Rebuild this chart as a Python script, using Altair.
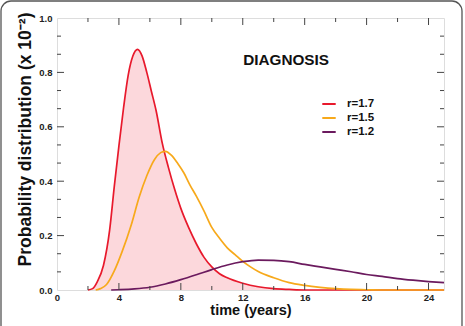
import altair as alt
import pandas as pd

# ---- data ----
red_t = [2.0, 2.3, 2.6, 3.0, 3.4, 3.7, 4.0, 4.3, 4.6, 4.9, 5.2, 5.5, 5.8, 6.1, 6.4, 6.8, 7.2, 7.6,
         8.0, 8.5, 9.0, 9.5, 10.0, 10.5, 11.0, 12.0, 13.0, 14.0, 15.0, 16.0, 25.0]
red_p = [0.0, 0.005, 0.03, 0.09, 0.22, 0.38, 0.53, 0.67, 0.79, 0.86, 0.885, 0.86, 0.80, 0.73, 0.66,
         0.54, 0.45, 0.37, 0.30, 0.23, 0.17, 0.12, 0.085, 0.06, 0.045, 0.025, 0.012, 0.005, 0.002, 0.0, 0.0]

yel_t = [2.5, 2.8, 3.2, 3.7, 4.2, 4.8, 5.3, 5.8, 6.3, 6.7, 7.0, 7.4, 7.8, 8.2, 8.6, 9.0, 9.5, 10.0,
         10.5, 11.0, 11.5, 12.0, 12.5, 13.0, 14.0, 15.0, 16.0, 17.0, 18.0, 19.0, 20.0, 21.0, 25.0]
yel_p = [0.0, 0.005, 0.02, 0.07, 0.14, 0.24, 0.34, 0.42, 0.48, 0.505, 0.51, 0.495, 0.465, 0.43, 0.385,
         0.345, 0.29, 0.23, 0.19, 0.155, 0.13, 0.105, 0.085, 0.068, 0.045, 0.027, 0.017, 0.01, 0.005,
         0.002, 0.001, 0.0, 0.0]

pur_t = [3.5, 4.0, 5.0, 6.0, 7.0, 8.0, 9.0, 10.0, 11.0, 12.0, 13.0, 14.0, 15.0, 16.0, 17.0, 18.0,
         19.0, 20.0, 21.0, 22.0, 23.0, 24.0, 25.0]
pur_p = [0.0, 0.001, 0.004, 0.01, 0.022, 0.038, 0.056, 0.075, 0.092, 0.104, 0.11, 0.109, 0.104, 0.094,
         0.085, 0.076, 0.067, 0.057, 0.05, 0.042, 0.036, 0.031, 0.027]

series_names = ["r=1.7", "r=1.5", "r=1.2"]
series_colors = ["#e8192c", "#f7a91b", "#6b1a5e"]

x_labels = [0, 4, 8, 12, 16, 20, 24]
y_labels = [0.0, 0.2, 0.4, 0.6, 0.8, 1.0]
x_major = [4, 8, 12, 16, 20, 24]
x_minor = [2, 6, 10, 14, 18, 22]
y_major = [0.2, 0.4, 0.6, 0.8]
y_minor = [1/15, 2/15, 4/15, 5/15, 7/15, 8/15, 10/15, 11/15, 13/15, 14/15]

X_MAX = 25.0
Y_MAX = 1.0
W, H = 387, 272
FONT = "Liberation Sans"

# ---- tables ----
curves = pd.concat([
    pd.DataFrame({"t": red_t, "p": red_p, "s": series_names[0]}),
    pd.DataFrame({"t": yel_t, "p": yel_p, "s": series_names[1]}),
    pd.DataFrame({"t": pur_t, "p": pur_p, "s": series_names[2]}),
])
red_df = pd.DataFrame({"t": red_t, "p": red_p})

xs = alt.Scale(domain=[0, X_MAX], nice=False, zero=False)
ys = alt.Scale(domain=[0, Y_MAX], nice=False)

# tick lengths in data units
def lx(px):
    return px * X_MAX / W

def ly(px):
    return px * Y_MAX / H

rows = []
for v in x_major:
    rows.append({"x": v, "x2": v, "y": 0, "y2": ly(7)})
    rows.append({"x": v, "x2": v, "y": Y_MAX, "y2": Y_MAX - ly(7)})
for v in x_minor:
    rows.append({"x": v, "x2": v, "y": 0, "y2": ly(4)})
    rows.append({"x": v, "x2": v, "y": Y_MAX, "y2": Y_MAX - ly(4)})
for v in y_major:
    rows.append({"x": 0, "x2": lx(7), "y": v, "y2": v})
    rows.append({"x": X_MAX, "x2": X_MAX - lx(7), "y": v, "y2": v})
for v in y_minor:
    rows.append({"x": 0, "x2": lx(4), "y": v, "y2": v})
    rows.append({"x": X_MAX, "x2": X_MAX - lx(4), "y": v, "y2": v})
ticks_df = pd.DataFrame(rows)

x_axis = alt.Axis(values=x_labels, ticks=False, domain=False, grid=False, labelFont=FONT,
                  labelFontWeight="bold", labelFontSize=9.5, labelColor="#222", labelPadding=2,
                  title="time (years)", titleFont=FONT, titleFontSize=14.5, titleFontWeight="bold",
                  titleColor="#111", titlePadding=2, labelFlush=False)
y_axis = alt.Axis(values=y_labels, format=".1f", ticks=False, domain=False, grid=False,
                  labelFont=FONT, labelFontWeight="bold", labelFontSize=9.5, labelColor="#222",
                  labelPadding=5, title="Probability distribution (x 10⁻²)", titleFont=FONT,
                  titleFontSize=17.5, titleFontWeight="bold", titleColor="#111", titlePadding=4,
                  titleY=121, labelFlush=False)

frame = alt.Chart(pd.DataFrame({"a": [0]})).mark_rect(
    fill=None, stroke="#555", strokeWidth=1.3, cornerRadiusTopLeft=10, cornerRadiusTopRight=10,
    cornerRadiusBottomLeft=0, cornerRadiusBottomRight=0
).encode(x=alt.value(-56), x2=alt.value(405), y=alt.value(-17), y2=alt.value(600))

fill = alt.Chart(red_df).mark_area(color="#fcd8dc", opacity=1, interpolate="monotone").encode(
    x=alt.X("t:Q", scale=xs, axis=x_axis),
    y=alt.Y("p:Q", scale=ys, axis=y_axis),
)

lines = alt.Chart(curves).mark_line(strokeWidth=1.7, interpolate="monotone").encode(
    x=alt.X("t:Q", scale=xs),
    y=alt.Y("p:Q", scale=ys),
    color=alt.Color("s:N", scale=alt.Scale(domain=series_names, range=series_colors),
                    legend=alt.Legend(orient="none", legendX=264, legendY=78, title=None,
                                      symbolType="stroke", symbolSize=180, symbolStrokeWidth=2,
                                      labelFont=FONT, labelFontSize=11.5, labelFontWeight="bold",
                                      labelColor="#111", rowPadding=-1, labelOffset=10, padding=0)),
)

ticks = alt.Chart(ticks_df).mark_rule(color="#444", strokeWidth=1).encode(
    x=alt.X("x:Q", scale=xs), x2="x2:Q", y=alt.Y("y:Q", scale=ys), y2="y2:Q"
)

label = alt.Chart(pd.DataFrame({"t": [14.8], "p": [0.846], "txt": ["DIAGNOSIS"]})).mark_text(
    font=FONT, fontSize=15.3, fontWeight="bold", color="#111"
).encode(x=alt.X("t:Q", scale=xs), y=alt.Y("p:Q", scale=ys), text="txt:N")

chart = alt.layer(frame, fill, lines, ticks, label).properties(
    width=W, height=H,
    padding={"left": 57, "top": 18, "right": 21, "bottom": 36},
    autosize=alt.AutoSizeParams(type="none"),
).configure_view(stroke="#111", strokeWidth=2).configure(background="white")

chart.save("out.html", embed_options={"renderer": "svg", "actions": False})
